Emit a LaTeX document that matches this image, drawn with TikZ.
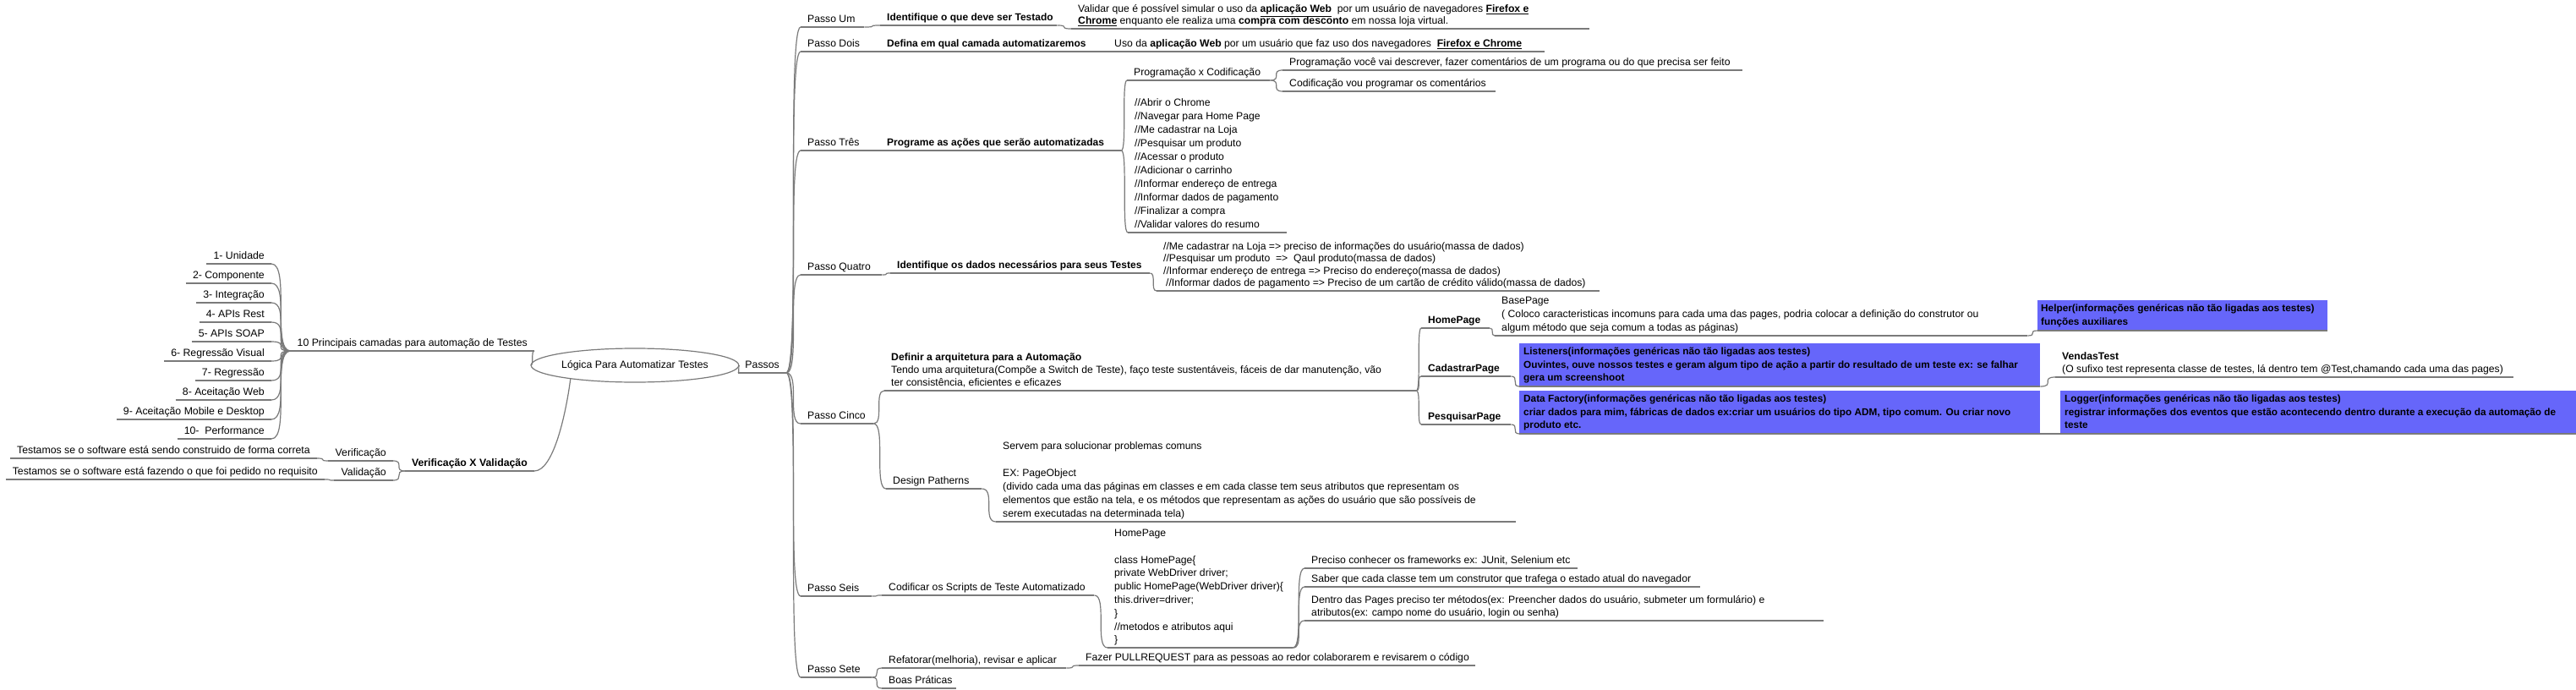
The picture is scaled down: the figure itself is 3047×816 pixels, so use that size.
\documentclass[tikz,border=0pt]{standalone}
\usepackage{fontspec}
\setmainfont{Liberation Sans}
\usetikzlibrary{shapes.geometric,calc}
\definecolor{lc}{RGB}{122,122,122}
\definecolor{boxblue}{RGB}{102,102,250}
\newcommand{\TB}[2]{\makebox[#1][l]{\begin{tabular}[b]{@{}l@{}}#2\end{tabular}}}
\newcommand{\uB}[1]{\underline{\textbf{#1}}}
\newcommand{\fsz}[1]{\fontsize{12.2}{#1}\selectfont}
\newcommand{\fbz}[1]{\fontsize{12}{#1}\selectfont\bfseries}
\newcommand{\fxz}[1]{\fontsize{11.8}{#1}\selectfont\bfseries}
\newcommand{\lfz}{\fontsize{12.3}{15}\selectfont}
\newcommand{\lnk}[2]{\draw[conn] (#1) .. controls (#2 |- #1) and (#1 |- #2) .. (#2);}
\tikzset{
 conn/.style={draw=lc, line width=1.2pt},
 R/.style={anchor=south west, inner xsep=8pt, inner ysep=2pt, text depth=3pt, font=\fsz{15.5}},
 Rb/.style={R, font=\fbz{15.5}},
 Lft/.style={anchor=south east, inner xsep=8pt, inner ysep=2pt, text depth=3pt, font=\lfz},
 bx/.style={anchor=south west, fill=boxblue, inner xsep=5pt, inner ysep=3pt, text depth=3pt, font=\fxz{15.5}},
 rootnode/.style={ellipse, draw=lc, line width=1.2pt, minimum width=203pt, minimum height=40pt, inner sep=0pt, font=\lfz},
}
\begin{document}
\begin{tikzpicture}[x=1pt,y=-1pt]
\fill[white] (0,0) rectangle (3047,816);
\useasboundingbox (0,0) rectangle (3047,816);

% ---------- left side ----------
\node[rootnode] (root) at (751,432) {Lógica Para Automatizar Testes};
\node[Lft] (passos) at (930,441) {Passos};
\node[Lft] (n10) at (632,415) {10 Principais camadas para automação de Testes};
\node[Lft] (i1) at (321,312) {1- Unidade};
\node[Lft] (i2) at (321,335) {2- Componente};
\node[Lft] (i3) at (321,358) {3- Integração};
\node[Lft] (i4) at (321,381) {4- APIs Rest};
\node[Lft] (i5) at (321,404) {5- APIs SOAP};
\node[Lft] (i6) at (321,427) {6- Regressão Visual};
\node[Lft] (i7) at (321,450) {7- Regressão};
\node[Lft] (i8) at (321,473) {8- Aceitação Web};
\node[Lft] (i9) at (321,496) {9- Aceitação Mobile e Desktop};
\node[Lft] (i10) at (321,519) {10-\ \ Performance};
\node[Lft, font=\lfz\bfseries] (vxv) at (632,557) {Verificação X Validação};
\node[Lft] (verif) at (465,545) {Verificação};
\node[Lft] (valid) at (465,568) {Validação};
\node[Lft] (t1) at (375,542) {Testamos se o software está sendo construido de forma correta};
\node[Lft] (t2) at (384,567) {Testamos se o software está fazendo o que foi pedido no requisito};

% ---------- passos ----------
\node[R] (pum) at (947,32) {\TB{59pt}{Passo Um}};
\node[R] (pdois) at (947,61) {\TB{67pt}{Passo Dois}};
\node[R] (ptres) at (947,178) {\TB{69pt}{Passo Três}};
\node[R] (pquatro) at (947,325) {\TB{80pt}{Passo Quatro}};
\node[R] (pcinco) at (947,501) {\TB{70pt}{Passo Cinco}};
\node[R] (pseis) at (947,705) {\TB{68pt}{Passo Seis}};
\node[R] (psete) at (947,801) {\TB{68pt}{Passo Sete}};

% Passo Um / Dois
\node[Rb] (id1) at (1041,30) {\TB{193pt}{Identifique o que deve ser Testado}};
\node[R, font=\fsz{13.5}] (val1) at (1267,34) {\TB{597pt}{Validar que é possível simular o uso da \uB{aplicação Web}\ \ por um usuário de navegadores \uB{Firefox e}\\\uB{Chrome} enquanto ele realiza uma \uB{compra com desconto} em nossa loja virtual.}};
\node[Rb] (def2) at (1041,61) {\TB{239pt}{Defina em qual camada automatizaremos}};
\node[R] (uso2) at (1310,61) {\TB{501pt}{Uso da \uB{aplicação Web} por um usuário que faz uso dos navegadores\ \ \uB{Firefox e Chrome}}};

% Passo Tres
\node[Rb] (prog3) at (1041,178) {\TB{269pt}{Programe as ações que serão automatizadas}};
\node[R] (pxc) at (1333,95) {\TB{153pt}{Programação x Codificação}};
\node[R] (pxc1) at (1517,83) {\TB{528pt}{Programação você vai descrever, fazer comentários de um programa ou do que precisa ser feito}};
\node[R] (pxc2) at (1517,108) {\TB{236pt}{Codificação vou programar os comentários}};
\node[R, font=\fsz{16}] (list3) at (1334,275) {\TB{172pt}{//Abrir o Chrome\\//Navegar para Home Page\\//Me cadastrar na Loja\\//Pesquisar um produto\\//Acessar o produto\\//Adicionar o carrinho\\//Informar endereço de entrega\\//Informar dados de pagamento\\//Finalizar a compra\\//Validar valores do resumo}};

% Passo Quatro
\node[Rb] (id4) at (1053,323) {\TB{291pt}{Identifique os dados necessários para seus Testes}};
\node[R, font=\fsz{14.5}] (dat4) at (1368,344) {\TB{508pt}{//Me cadastrar na Loja => preciso de informações do usuário(massa de dados)\\//Pesquisar um produto\ \ =>\ \ Qaul produto(massa de dados)\\//Informar endereço de entrega => Preciso do endereço(massa de dados)\\\hspace{3pt}//Informar dados de pagamento => Preciso de um cartão de crédito válido(massa de dados)}};

% Passo Cinco
\node[R, font=\fsz{15}] (arq5) at (1046,462) {\TB{613pt}{\textbf{Definir a arquitetura para a Automação}\\Tendo uma arquitetura(Compõe a Switch de Teste), faço teste sustentáveis, fáceis de dar manutenção, vão\\ter consistência, eficientes e eficazes}};
\node[Rb] (home5) at (1681,388) {\TB{65pt}{HomePage}};
\node[Rb] (cad5) at (1681,445) {\TB{90pt}{CadastrarPage}};
\node[Rb] (pes5) at (1681,502) {\TB{90pt}{PesquisarPage}};
\node[R, font=\fsz{16}] (base5) at (1768,397) {\TB{614pt}{BasePage\\( Coloco caracteristicas incomuns para cada uma das pages, podria colocar a definição do construtor ou\\algum método que seja comum a todas as páginas)}};
\node[bx, inner xsep=4pt, font=\fxz{16}] (helper) at (2410,391) {\TB{335pt}{Helper(informações genéricas não tão ligadas aos testes)\\funções auxiliares}};
\node[bx] (lis) at (1797,457) {\TB{606pt}{Listeners(informações genéricas não tão ligadas aos testes)\\Ouvintes, ouve nossos testes e geram algum tipo de ação a partir do resultado de um teste ex: se falhar\\gera um screenshoot}};
\node[R, font=\fsz{15}] (vendas) at (2431,446) {\TB{526pt}{\textbf{VendasTest}\\(O sufixo test representa classe de testes, lá dentro tem @Test,chamando cada uma das pages)}};
\node[bx] (daf) at (1797,513) {\TB{606pt}{Data Factory(informações genéricas não tão ligadas aos testes)\\criar dados para mim, fábricas de dados ex:criar um usuários do tipo ADM, tipo comum. Ou criar novo\\produto etc.}};
\node[bx] (logg) at (2437,513) {\TB{600pt}{Logger(informações genéricas não tão ligadas aos testes)\\registrar informações dos eventos que estão acontecendo dentro durante a execução da automação de\\teste}};
\node[R] (dp5) at (1048,578) {\TB{97pt}{Design Patherns}};
\node[R, font=\fsz{16}] (dpc) at (1178,617) {\TB{599pt}{Servem para solucionar problemas comuns\\\mbox{}\\EX: PageObject\\(divido cada uma das páginas em classes e em cada classe tem seus atributos que representam os\\elementos que estão na tela, e os métodos que representam as ações do usuário que são possíveis de\\serem executadas na determinada tela)}};

% Passo Seis
\node[R] (cod6) at (1043,704) {\TB{235pt}{Codificar os Scripts de Teste Automatizado}};
\node[R, font=\fsz{15.8}] (code6) at (1310,766) {\TB{203pt}{HomePage\\\mbox{}\\class HomePage\{\\private WebDriver driver;\\public HomePage(WebDriver driver)\{\\this.driver=driver;\\\}\\//metodos e atributos aqui\\\}}};
\node[R] (pre6) at (1543,672) {\TB{307pt}{Preciso conhecer os frameworks ex: JUnit, Selenium etc}};
\node[R] (sab6) at (1543,694) {\TB{452pt}{Saber que cada classe tem um construtor que trafega o estado atual do navegador}};
\node[R, font=\fsz{15.5}] (den6) at (1543,734) {\TB{598pt}{Dentro das Pages preciso ter métodos(ex: Preencher dados do usuário, submeter um formulário) e\\atributos(ex: campo nome do usuário, login ou senha)}};

% Passo Sete
\node[R] (ref7) at (1043,790) {\TB{202pt}{Refatorar(melhoria), revisar e aplicar}};
\node[R] (pul7) at (1276,787) {\TB{453pt}{Fazer PULLREQUEST para as pessoas ao redor colaborarem e revisarem o código}};
\node[R] (boa7) at (1043,814) {\TB{72pt}{Boas Práticas}};

% ---------- underlines ----------
\foreach \n in {passos,n10,i1,i2,i3,i4,i5,i6,i7,i8,i9,i10,vxv,verif,valid,t1,t2,
  pum,pdois,ptres,pquatro,pcinco,pseis,psete,id1,val1,def2,uso2,prog3,pxc,pxc1,pxc2,list3,
  id4,dat4,arq5,home5,cad5,pes5,base5,helper,lis,vendas,daf,logg,dp5,dpc,
  cod6,code6,pre6,sab6,den6,ref7,pul7,boa7}
  \draw[conn] (\n.south west) -- (\n.south east);

% ---------- connectors ----------
\lnk{root.east}{passos.south west}
\lnk{n10.south east}{root.west}
\foreach \i in {1,...,10} {\lnk{n10.south west}{i\i.south east}}
\draw[conn] (vxv.south east) .. controls +(22,0) and +(-6,45) .. (root.192);
\lnk{vxv.south west}{verif.south east}
\lnk{vxv.south west}{valid.south east}
\lnk{t1.south east}{verif.south west}
\lnk{t2.south east}{valid.south west}

\foreach \p in {pum,pdois,ptres,pquatro,pcinco,pseis,psete} {\lnk{passos.south east}{\p.south west}}
\lnk{pum.south east}{id1.south west}
\lnk{id1.south east}{val1.south west}
\lnk{pdois.south east}{def2.south west}
\lnk{def2.south east}{uso2.south west}
\lnk{ptres.south east}{prog3.south west}
\lnk{prog3.south east}{pxc.south west}
\lnk{prog3.south east}{list3.south west}
\lnk{pxc.south east}{pxc1.south west}
\lnk{pxc.south east}{pxc2.south west}
\lnk{pquatro.south east}{id4.south west}
\lnk{id4.south east}{dat4.south west}
\lnk{pcinco.south east}{arq5.south west}
\lnk{pcinco.south east}{dp5.south west}
\lnk{arq5.south east}{home5.south west}
\lnk{arq5.south east}{cad5.south west}
\lnk{arq5.south east}{pes5.south west}
\lnk{home5.south east}{base5.south west}
\lnk{base5.south east}{helper.south west}
\lnk{cad5.south east}{lis.south west}
\lnk{lis.south east}{vendas.south west}
\lnk{pes5.south east}{daf.south west}
\lnk{daf.south east}{logg.south west}
\lnk{dp5.south east}{dpc.south west}
\lnk{pseis.south east}{cod6.south west}
\lnk{cod6.south east}{code6.south west}
\lnk{code6.south east}{pre6.south west}
\lnk{code6.south east}{sab6.south west}
\lnk{code6.south east}{den6.south west}
\lnk{psete.south east}{ref7.south west}
\lnk{psete.south east}{boa7.south west}
\lnk{ref7.south east}{pul7.south west}
\end{tikzpicture}
\end{document}
